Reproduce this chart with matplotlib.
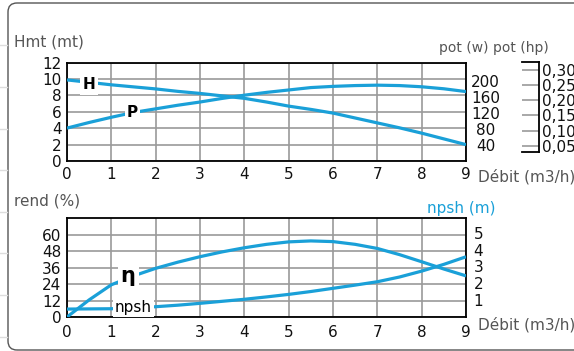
import matplotlib
matplotlib.use("Agg")
import matplotlib.pyplot as plt
from matplotlib.patches import FancyBboxPatch
from matplotlib.lines import Line2D
from matplotlib.ticker import FuncFormatter

plt.rcParams['font.family'] = ['DejaVu Sans']

# ---- data ----
debit = [0, 0.5, 1, 1.5, 2, 2.5, 3, 3.5, 4, 4.5, 5, 5.5, 6, 6.5, 7, 7.5, 8, 8.5, 9]
hmt = [9.9, 9.6, 9.3, 9.05, 8.8, 8.5, 8.25, 7.95, 7.65, 7.2, 6.7, 6.3, 5.85, 5.25, 4.65, 4.05, 3.4, 2.7, 2.0]
pot_w = [82, 96, 109, 121, 130, 139, 147, 156, 164, 171, 177, 183, 186, 188, 189, 188, 185, 180, 173]
rend = [0, 12.5, 23.5, 30, 35.5, 40, 44, 47.5, 50.5, 53, 54.8, 55.5, 55, 53, 50, 45.5, 40.3, 35, 30]
npsh = [0.47, 0.48, 0.49, 0.54, 0.61, 0.70, 0.81, 0.93, 1.05, 1.19, 1.34, 1.51, 1.70, 1.89, 2.09, 2.37, 2.72, 3.12, 3.57]

x_ticks = list(range(0, 10))
hmt_ticks = [0, 2, 4, 6, 8, 10, 12]
potw_ticks = [40, 80, 120, 160, 200]
hp_ticks = [0.05, 0.10, 0.15, 0.20, 0.25, 0.30]
rend_ticks = [0, 12, 24, 36, 48, 60]
npsh_ticks = [1, 2, 3, 4, 5]

BLUE = '#1aa0d8'
GRAY_TXT = '#555555'
GRID = '#9a9a9a'
W, H = 574, 351

fig = plt.figure(figsize=(W / 100, H / 100), dpi=100)

def fx(px):
    return px / W

def fy(py):
    return 1 - py / H

# frame (pixel coordinates, origin bottom-left)
frame = FancyBboxPatch((8, H - 350), 620, 347,
                       boxstyle="round,pad=0,rounding_size=9",
                       transform=None, fill=False, ec='#555555', lw=1.0)
fig.patches.append(frame)
for yy in [45, 87, 129, 170, 212, 253, 295, 337]:
    fig.add_artist(Line2D([0, fx(7)], [fy(yy), fy(yy)], transform=fig.transFigure,
                          color='#dddddd', lw=1))


def style_main(ax, ylim, yticks):
    ax.set_xlim(0, 9)
    ax.set_ylim(*ylim)
    ax.set_xticks(x_ticks)
    ax.set_yticks(yticks)
    ax.grid(True, color=GRID, lw=1.2)
    ax.set_axisbelow(True)
    for s in ax.spines.values():
        s.set_color('black')
        s.set_linewidth(1.3)
    ax.tick_params(length=0, labelsize=11, colors='#111111')
    ax.tick_params(axis='y', pad=4)


# ---- top chart ----
ax1 = fig.add_axes([fx(67), fy(161), fx(466) - fx(67), fy(62.7) - fy(161)])
style_main(ax1, (0, 12), hmt_ticks)
ax1.tick_params(axis='x', pad=4)
ax1.plot(debit, hmt, color=BLUE, lw=2.3, zorder=3, solid_capstyle='butt')
ax1b = ax1.twinx()
ax1b.set_ylim(0, 245)
ax1b.set_yticks(potw_ticks)
ax1b.tick_params(length=0, labelsize=11, colors='#111111', pad=14)
for t in ax1b.get_yticklabels():
    t.set_ha('center')
for s in ax1b.spines.values():
    s.set_visible(False)
ax1b.plot(debit, pot_w, color=BLUE, lw=2.3, zorder=3, solid_capstyle='butt')
ax1.text(0.5, 9.3, 'H', fontsize=11, fontweight='bold', ha='center', va='center', zorder=5,
         bbox=dict(boxstyle='square,pad=0.15', fc='white', ec='none'))
ax1b.text(1.48, 5.9 * 20.4, 'P', fontsize=11, fontweight='bold', ha='center', va='center', zorder=5,
          bbox=dict(boxstyle='square,pad=0.15', fc='white', ec='none'))

# hp axis
axh = fig.add_axes([fx(521.7), fy(152.3), fx(539.3) - fx(521.7), fy(62.3) - fy(152.3)])
axh.set_ylim(0.0286, 0.3247)
axh.set_xlim(0, 1)
axh.set_xticks([])
axh.set_yticks(hp_ticks)
axh.yaxis.tick_right()
axh.yaxis.set_major_formatter(FuncFormatter(lambda v, p: f"{v:.2f}".replace('.', ',')))
axh.tick_params(axis='y', length=0, labelsize=11, colors='#111111', pad=2)
axh.grid(True, axis='y', color=GRID, lw=1.2)
axh.spines['left'].set_visible(False)
for k in ['right', 'top', 'bottom']:
    axh.spines[k].set_color('black')
    axh.spines[k].set_linewidth(1.3)
axh.patch.set_alpha(0)

# ---- bottom chart ----
ax2 = fig.add_axes([fx(67), fy(317), fx(466) - fx(67), fy(218.3) - fy(317)])
style_main(ax2, (0, 72), rend_ticks)
ax2.tick_params(axis='x', pad=6)
ax2.plot(debit, rend, color=BLUE, lw=2.3, zorder=3, solid_capstyle='butt')
ax2b = ax2.twinx()
ax2b.set_ylim(0, 5.85)
ax2b.set_yticks(npsh_ticks)
ax2b.tick_params(length=0, labelsize=11, colors='#111111', pad=9)
for t in ax2b.get_yticklabels():
    t.set_ha('center')
for s in ax2b.spines.values():
    s.set_visible(False)
ax2b.plot(debit, npsh, color=BLUE, lw=2.3, zorder=3, solid_capstyle='butt')
ax2.text(1.38, 30, 'η', fontsize=15, fontweight='bold', ha='center', va='center', zorder=5,
         bbox=dict(boxstyle='square,pad=0.15', fc='white', ec='none'))
ax2b.text(1.5, 0.55, 'npsh', fontsize=11, ha='center', va='center', zorder=5,
          bbox=dict(boxstyle='square,pad=0.1', fc='white', ec='none'))

# ---- labels ----
fig.text(fx(14), fy(42), 'Hmt (mt)', fontsize=11, color=GRAY_TXT, ha='left', va='center')
fig.text(fx(439), fy(48), 'pot (w)', fontsize=10, color=GRAY_TXT, ha='left', va='center')
fig.text(fx(493), fy(48), 'pot (hp)', fontsize=10, color=GRAY_TXT, ha='left', va='center')
fig.text(fx(478), fy(177), 'Débit (m3/h)', fontsize=11, color=GRAY_TXT, ha='left', va='center')
fig.text(fx(14), fy(201), 'rend (%)', fontsize=11, color=GRAY_TXT, ha='left', va='center')
fig.text(fx(427), fy(208), 'npsh (m)', fontsize=11, color=BLUE, ha='left', va='center')
fig.text(fx(478), fy(325), 'Débit (m3/h)', fontsize=11, color=GRAY_TXT, ha='left', va='center')

fig.savefig('out.png', dpi=100)
